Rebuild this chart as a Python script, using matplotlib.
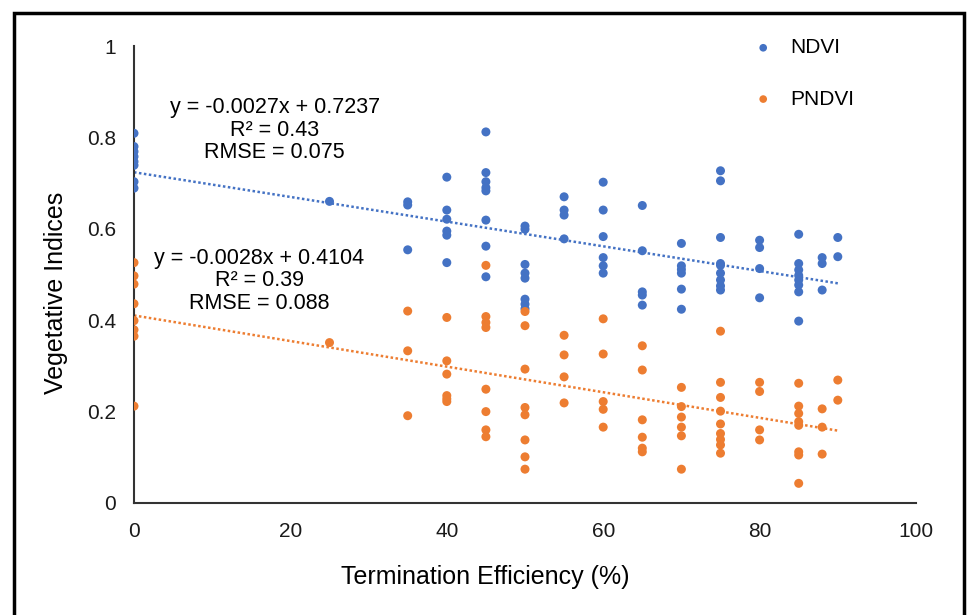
import numpy as np
import matplotlib.pyplot as plt
from matplotlib.patches import Rectangle

plt.rcParams['font.family'] = ['Liberation Sans', 'DejaVu Sans']

# termination efficiency levels (%) and index values observed at each level
levels = [0, 25, 35, 40, 45, 50, 55, 60, 65, 70, 75, 80, 85, 88, 90]

ndvi_groups = [
    [0.809, 0.780, 0.769, 0.758, 0.747, 0.739, 0.703, 0.689],
    [0.660],
    [0.659, 0.652, 0.554],
    [0.713, 0.641, 0.621, 0.595, 0.586, 0.526],
    [0.812, 0.723, 0.703, 0.690, 0.683, 0.619, 0.562, 0.495],
    [0.606, 0.599, 0.522, 0.503, 0.492, 0.446, 0.435, 0.425],
    [0.670, 0.641, 0.630, 0.578],
    [0.702, 0.641, 0.583, 0.537, 0.519, 0.503],
    [0.651, 0.552, 0.462, 0.455, 0.433],
    [0.568, 0.519, 0.511, 0.503, 0.468, 0.424],
    [0.727, 0.705, 0.581, 0.524, 0.520, 0.503, 0.488, 0.475, 0.466],
    [0.575, 0.559, 0.513, 0.449],
    [0.588, 0.524, 0.510, 0.498, 0.488, 0.477, 0.462, 0.398],
    [0.537, 0.524, 0.466],
    [0.581, 0.539],
]

pndvi_groups = [
    [0.526, 0.497, 0.479, 0.436, 0.399, 0.379, 0.365, 0.212],
    [0.351],
    [0.420, 0.333, 0.191],
    [0.406, 0.311, 0.282, 0.235, 0.228, 0.222],
    [0.520, 0.408, 0.395, 0.384, 0.249, 0.200, 0.160, 0.145],
    [0.419, 0.388, 0.293, 0.209, 0.193, 0.138, 0.101, 0.074],
    [0.367, 0.324, 0.276, 0.219],
    [0.403, 0.326, 0.222, 0.205, 0.166],
    [0.344, 0.291, 0.182, 0.144, 0.120, 0.112],
    [0.253, 0.211, 0.188, 0.166, 0.147, 0.074],
    [0.376, 0.264, 0.231, 0.201, 0.173, 0.152, 0.139, 0.127, 0.109],
    [0.264, 0.244, 0.160, 0.138],
    [0.262, 0.212, 0.196, 0.178, 0.170, 0.112, 0.105, 0.043],
    [0.206, 0.166, 0.107],
    [0.269, 0.225],
]

# trend lines as reported on the chart
ndvi_fit = (-0.0027, 0.7237, 0.43, 0.075)
pndvi_fit = (-0.0028, 0.4104, 0.39, 0.088)

blue = '#4472C4'
orange = '#ED7D31'


def flatten(groups):
    xs, ys = [], []
    for lv, vals in zip(levels, groups):
        xs += [lv] * len(vals)
        ys += vals
    return np.array(xs), np.array(ys)


x_n, y_n = flatten(ndvi_groups)
x_p, y_p = flatten(pndvi_groups)

fig = plt.figure(figsize=(9.69, 6.15), dpi=100)
ax = fig.add_axes([134 / 969, 112 / 615, 782 / 969, 457 / 615])

ax.scatter(x_n, y_n, s=42, color=blue, edgecolors='none', label='NDVI', zorder=3)
ax.scatter(x_p, y_p, s=42, color=orange, edgecolors='none', label='PNDVI', zorder=3)

xl = np.array([0, max(levels)])
for fit, c in [(ndvi_fit, blue), (pndvi_fit, orange)]:
    ax.plot(xl, fit[0] * xl + fit[1], linestyle=(0, (1, 1)), color=c, linewidth=1.8, zorder=2)

ax.text(18.0, 0.816,
        f'y = {ndvi_fit[0]}x + {ndvi_fit[1]}\nR² = {ndvi_fit[2]}\nRMSE = {ndvi_fit[3]}',
        ha='center', va='center', multialignment='center', fontsize=15.5, linespacing=1.1)
ax.text(16.0, 0.486,
        f'y = {pndvi_fit[0]}x + {pndvi_fit[1]}\nR² = {pndvi_fit[2]}\nRMSE = {pndvi_fit[3]}',
        ha='center', va='center', multialignment='center', fontsize=15.5, linespacing=1.1)

ax.set_xlim(0, 100)
ax.set_ylim(0, 1)
ax.set_xticks([0, 20, 40, 60, 80, 100])
ax.set_yticks([0, 0.2, 0.4, 0.6, 0.8, 1])
ax.set_yticklabels(['0', '0.2', '0.4', '0.6', '0.8', '1'])
ax.tick_params(length=0, labelsize=15, colors='#1a1a1a')
ax.tick_params(axis='x', pad=14)
ax.tick_params(axis='y', pad=13)
for s in ['top', 'right']:
    ax.spines[s].set_visible(False)
for s in ['left', 'bottom']:
    ax.spines[s].set_color('#333333')
    ax.spines[s].set_linewidth(1.5)

ax.set_xlabel('Termination Efficiency (%)', fontsize=18)
ax.set_ylabel('Vegetative Indices', fontsize=18)
ax.xaxis.set_label_coords(0.449, -0.135)
ax.yaxis.set_label_coords(-0.085, 0.46)

ax.legend(loc='upper left', bbox_to_anchor=(0.754, 1.058), frameon=False, fontsize=15,
          labelspacing=1.55, handletextpad=0.3, markerscale=0.85)

fig.patches.append(Rectangle((14 / 969, -0.05), 950 / 969, (615 - 13) / 615 + 0.05,
                             transform=fig.transFigure, fill=False, edgecolor='black',
                             linewidth=2.5, zorder=10))

fig.savefig('out.png', dpi=100)
